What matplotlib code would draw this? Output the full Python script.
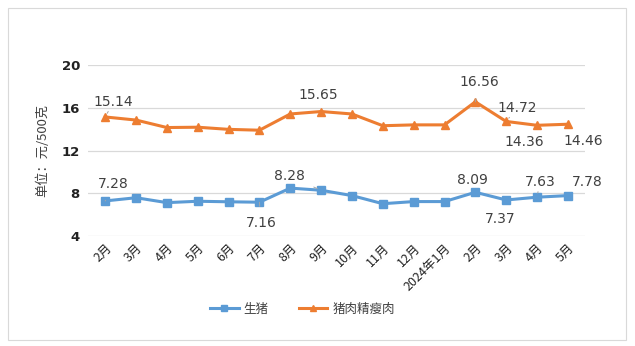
import matplotlib.pyplot as plt
from matplotlib.patches import Rectangle

plt.rcParams['font.family'] = ['Noto Sans CJK SC', 'DejaVu Sans']

# ----- data -----
months = ["2月", "3月", "4月", "5月", "6月", "7月", "8月", "9月", "10月", "11月",
          "12月", "2024年1月", "2月", "3月", "4月", "5月"]
pig = [7.28, 7.58, 7.12, 7.25, 7.20, 7.16, 8.48, 8.28, 7.78, 7.02,
       7.22, 7.22, 8.09, 7.37, 7.63, 7.78]
pork = [15.14, 14.85, 14.15, 14.18, 13.98, 13.90, 15.42, 15.65, 15.42, 14.32,
        14.40, 14.40, 16.56, 14.72, 14.36, 14.46]

blue = '#5B9BD5'
orange = '#ED7D31'
x = list(range(len(months)))

fig = plt.figure(figsize=(6.35, 3.46), dpi=100)
fig.patches.append(Rectangle((0.013, 0.017), 0.973, 0.96, transform=fig.transFigure,
                             fill=False, edgecolor='#d9d9d9', lw=0.8))
ax = fig.add_axes([0.139, 0.318, 0.782, 0.494])

ax.plot(x, pig, color=blue, lw=2.2, marker='s', ms=6, label='生猪')
ax.plot(x, pork, color=orange, lw=2.2, marker='^', ms=6, label='猪肉精瘦肉')

ax.set_ylim(4, 20)
ax.set_yticks([4, 8, 12, 16, 20])
ax.set_xlim(-0.55, 15.55)
ax.set_xticks(x)
ax.set_xticklabels(months, rotation=45, ha='right', rotation_mode='anchor', fontsize=9)
ax.tick_params(axis='both', length=0, colors='#222222')
ax.tick_params(axis='x', pad=4)
ax.tick_params(axis='y', pad=6)
for t in ax.get_yticklabels():
    t.set_fontweight('bold')
    t.set_fontsize(9.5)
    t.set_fontfamily('DejaVu Sans')
ax.grid(axis='y', color='#d9d9d9', lw=0.9)
ax.set_axisbelow(True)
for s in ax.spines.values():
    s.set_visible(False)
ax.set_ylabel("单位：元/500克", fontsize=9.5, color='#404040', labelpad=9)

# ----- data labels (text offsets in points) -----
lab = dict(fontsize=10, color='#404040', ha='center', va='center', family='DejaVu Sans')
def note(i, vals, dx, dy, leader=False):
    ax.annotate(f"{vals[i]:.2f}", (i, vals[i]), xytext=(dx, dy), textcoords='offset points',
                arrowprops=dict(arrowstyle='-', color='#a6a6a6', lw=0.7, shrinkA=5, shrinkB=3)
                if leader else None, **lab)

note(0, pork, 6, 11, True)
note(7, pork, -2, 12)
note(12, pork, 3, 14, True)
note(13, pork, 8, 10, True)
note(14, pork, -9, -12)
note(15, pork, 11, -12)

note(0, pig, 6, 12, True)
note(5, pig, 1, -15, True)
note(7, pig, -23, 10, True)
note(12, pig, -2, 9)
note(13, pig, -4, -14)
note(14, pig, 2, 11, True)
note(15, pig, 14, 10)

fig.legend(loc='lower center', bbox_to_anchor=(0.476, 0.055), ncol=2, frameon=False,
           fontsize=9, handlelength=2.3, handletextpad=0.4, columnspacing=2.4,
           markerscale=0.75, labelcolor='#404040')

fig.savefig('out.png', dpi=100)
